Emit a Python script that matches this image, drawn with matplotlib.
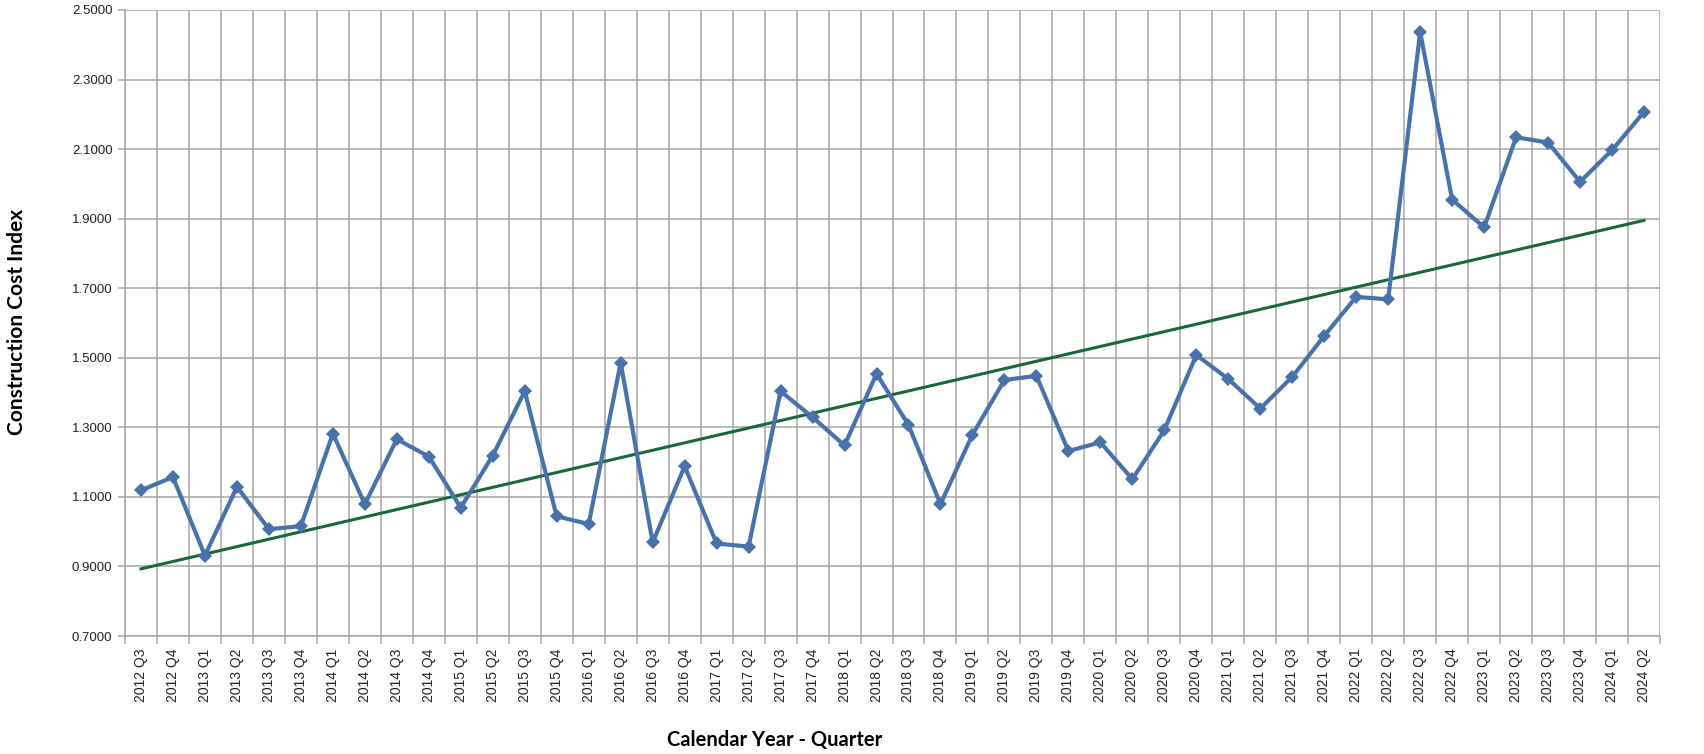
import matplotlib
matplotlib.use("Agg")
import matplotlib.pyplot as plt
import numpy as np

quarters = ["2012 Q3", "2012 Q4",
            "2013 Q1", "2013 Q2", "2013 Q3", "2013 Q4",
            "2014 Q1", "2014 Q2", "2014 Q3", "2014 Q4",
            "2015 Q1", "2015 Q2", "2015 Q3", "2015 Q4",
            "2016 Q1", "2016 Q2", "2016 Q3", "2016 Q4",
            "2017 Q1", "2017 Q2", "2017 Q3", "2017 Q4",
            "2018 Q1", "2018 Q2", "2018 Q3", "2018 Q4",
            "2019 Q1", "2019 Q2", "2019 Q3", "2019 Q4",
            "2020 Q1", "2020 Q2", "2020 Q3", "2020 Q4",
            "2021 Q1", "2021 Q2", "2021 Q3", "2021 Q4",
            "2022 Q1", "2022 Q2", "2022 Q3", "2022 Q4",
            "2023 Q1", "2023 Q2", "2023 Q3", "2023 Q4",
            "2024 Q1", "2024 Q2"]

cci = [1.119, 1.157,
       0.931, 1.129, 1.007, 1.016,
       1.282, 1.079, 1.266, 1.216,
       1.069, 1.219, 1.404, 1.044,
       1.022, 1.486, 0.969, 1.188,
       0.966, 0.957, 1.404, 1.329,
       1.248, 1.454, 1.307, 1.079,
       1.279, 1.436, 1.448, 1.232,
       1.257, 1.151, 1.292, 1.508,
       1.439, 1.354, 1.445, 1.563,
       1.675, 1.668, 2.437, 1.955,
       1.875, 2.134, 2.119, 2.006,
       2.097, 2.207]

# linear trend line, read at first and last quarter
trend_ends = [0.893, 1.895]

y_ticks = [0.7, 0.9, 1.1, 1.3, 1.5, 1.7, 1.9, 2.1, 2.3, 2.5]

W, H = 1704, 754
fig = plt.figure(figsize=(W / 100, H / 100), dpi=100)
ax = fig.add_axes([125 / W, 1 - 636 / H, (1660 - 125) / W, (636 - 10) / H])

x = np.arange(len(quarters))
grid_c = "#A6A6A6"
tick_font = ["Liberation Sans", "DejaVu Sans"]

# category boundary gridlines
for b in np.arange(len(quarters) + 1) - 0.5:
    ax.axvline(b, color=grid_c, linewidth=1.1, zorder=0)
for t in y_ticks:
    ax.axhline(t, color=grid_c, linewidth=1.1, zorder=0)

ax.plot([x[0], x[-1]], trend_ends, color="#17693A", linewidth=2.2, zorder=2)
ax.plot(x, cci, color="#4773AA", linewidth=3, marker="D", markersize=7,
        markeredgewidth=0, zorder=3)

ax.set_xlim(-0.5, len(quarters) - 0.5)
ax.set_ylim(0.7, 2.5)
ax.set_yticks(y_ticks)
ax.set_yticklabels([f"{t:.4f}" for t in y_ticks], fontsize=9.5, color="#222222",
                   family=tick_font)
ax.set_xticks(x)
ax.set_xticklabels(quarters, rotation=90, fontsize=10, color="#222222",
                   family=tick_font)
ax.tick_params(axis="x", length=0, pad=9)
ax.set_xticks(np.arange(len(quarters) + 1) - 0.5, minor=True)
ax.tick_params(axis="x", which="minor", length=6, color=grid_c, width=1.1)
ax.tick_params(axis="y", length=5, color=grid_c, width=1.1, pad=4)

for s in ["top", "right"]:
    ax.spines[s].set_visible(False)
ax.spines["left"].set_color(grid_c)
ax.spines["bottom"].set_color(grid_c)
ax.spines["left"].set_linewidth(1.1)
ax.spines["bottom"].set_linewidth(1.1)

fig.text(17 / W, 1 - 322 / H, "Construction Cost Index", rotation=90,
         ha="center", va="center", fontsize=15, fontweight="bold",
         family=["Lato", "DejaVu Sans"])
fig.text(775 / W, 1 - 740 / H, "Calendar Year - Quarter",
         ha="center", va="center", fontsize=14.5, fontweight="bold",
         family=["Lato", "DejaVu Sans"])

fig.savefig("out.png", dpi=100, facecolor="white")
